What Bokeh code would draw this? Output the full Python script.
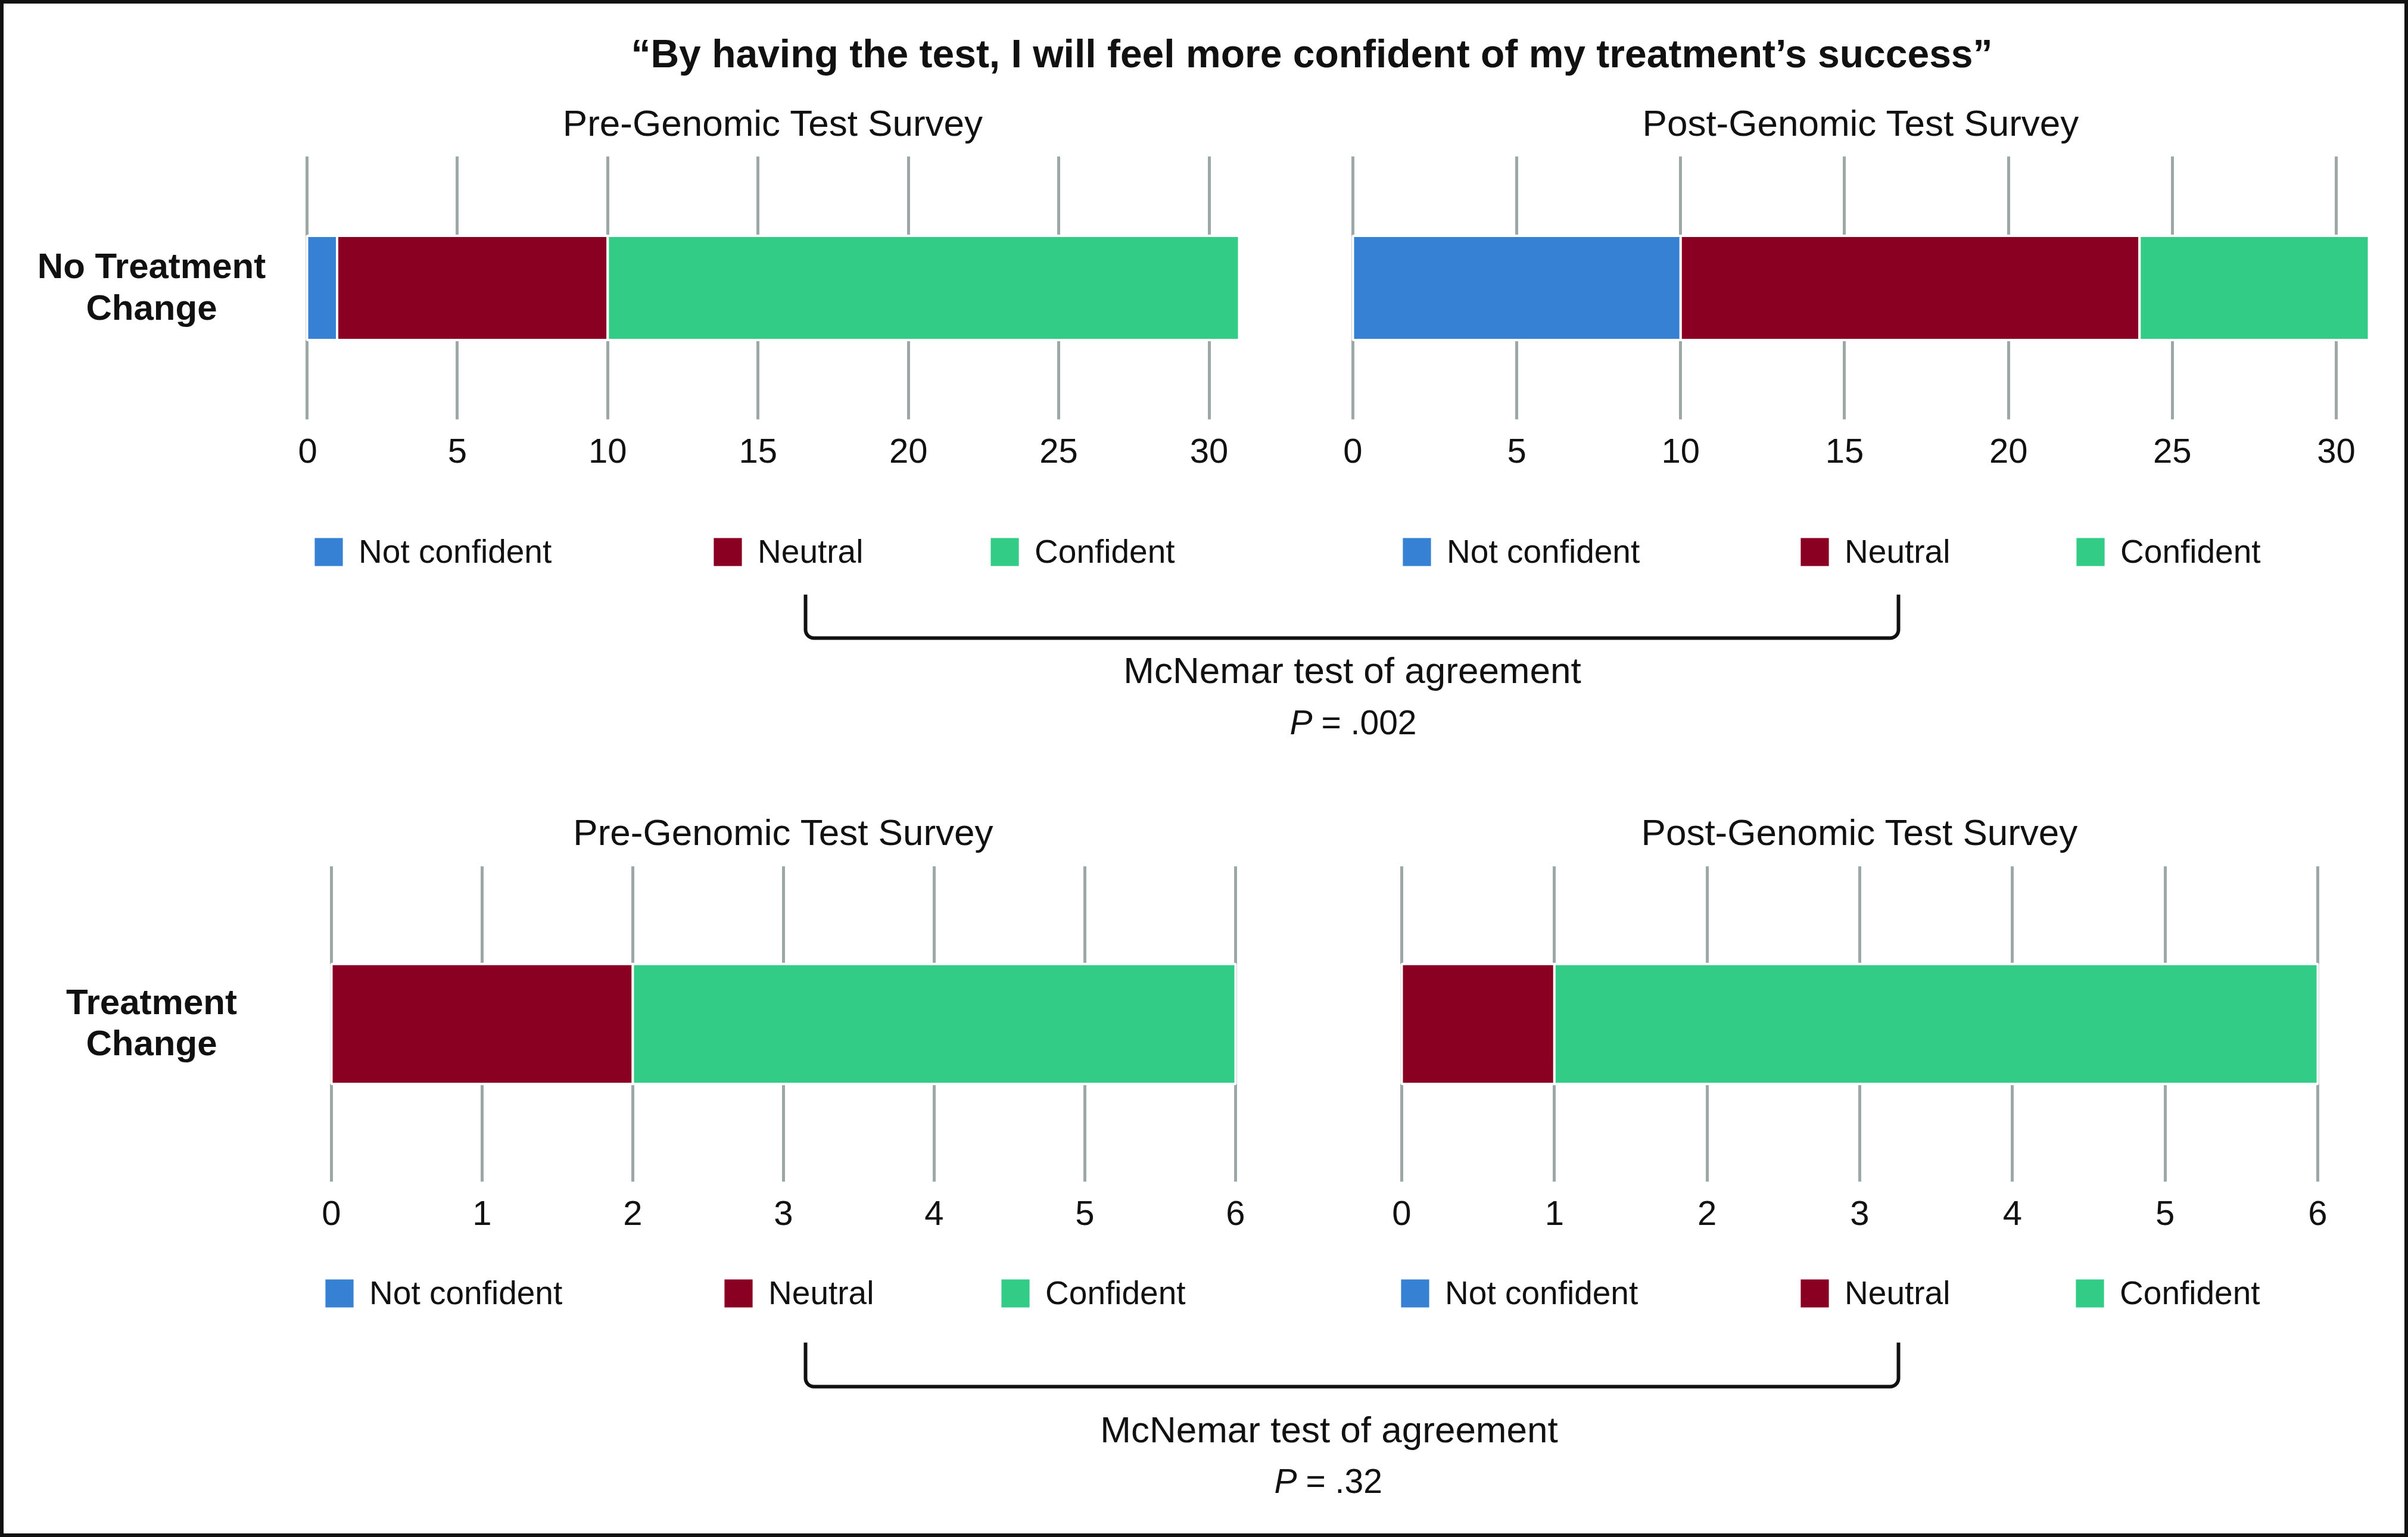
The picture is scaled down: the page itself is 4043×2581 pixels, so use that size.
import numpy as np
from bokeh.plotting import figure
from bokeh.models import Range1d, FixedTicker, Legend, LegendItem
from bokeh.layouts import row, column
from bokeh.core.properties import value
from bokeh.embed import file_html
from bokeh.resources import INLINE

# ---------------- data ----------------
categories = ["Not confident", "Neutral", "Confident"]
category_colors = ["#3681D4", "#8A0022", "#33CC87"]

no_change_pre = [1, 9, 21]
no_change_post = [10, 14, 7]
change_pre = [0, 2, 4]
change_post = [0, 1, 5]

ticks_no_change = [0, 5, 10, 15, 20, 25, 30]
ticks_change = [0, 1, 2, 3, 4, 5, 6]

chart_title = "\u201cBy having the test, I will feel more confident of my treatment\u2019s success\u201d"
survey_titles = ["Pre-Genomic Test Survey", "Post-Genomic Test Survey"]
group_labels = [["No Treatment", "Change"], ["Treatment", "Change"]]
test_name = "McNemar test of agreement"
p_symbol = "P"
p_value_texts = ["= .002", "= .32"]

# ---------------- style / layout ----------------
FONT = "Liberation Sans"
INK = "#111111"
GRID = "#9BA8A6"
BORDER = 6
X0, X1 = BORDER, 4043 - BORDER      # inner content (page coordinates)
Y_END = 2581 - BORDER
PAD = 6                              # px of breathing room so edge grid lines show


def survey_panel(counts, xmax, ticks, title, x_left, x_right, frame_l, frame_r,
                 y_top, y_bot, frame_t, frame_b, bar_height, title_standoff):
    ppu = (frame_r - frame_l) / xmax
    fl, fr = frame_l - PAD, frame_r + PAD
    p = figure(width=x_right - x_left, height=y_bot - y_top, title=title,
               x_range=Range1d(-PAD / ppu, xmax + PAD / ppu), y_range=Range1d(0, 1),
               output_backend="svg", toolbar_location=None, y_axis_location=None,
               min_border_left=fl - x_left, min_border_right=x_right - fr,
               min_border_top=frame_t - y_top, min_border_bottom=y_bot - frame_b)
    p.outline_line_color = None
    p.title.align = "center"
    p.title.text_font = FONT
    p.title.text_font_size = "62px"
    p.title.text_font_style = "normal"
    p.title.text_color = INK
    p.title.standoff = title_standoff
    right = np.cumsum(counts)
    left = right - np.array(counts)
    p.hbar(y=[0.5] * len(counts), left=left, right=right, height=bar_height,
           fill_color=category_colors, line_color="white", line_width=4)
    p.xaxis.ticker = FixedTicker(ticks=ticks)
    p.xaxis.axis_line_color = None
    p.xaxis.major_tick_line_color = None
    p.xaxis.minor_tick_line_color = None
    p.xaxis.major_tick_in = 0
    p.xaxis.major_tick_out = 0
    p.xaxis.major_label_standoff = 32
    p.xaxis.major_label_text_font = FONT
    p.xaxis.major_label_text_font_size = "58px"
    p.xaxis.major_label_text_color = INK
    p.xgrid.ticker = FixedTicker(ticks=ticks)
    p.xgrid.grid_line_color = GRID
    p.xgrid.grid_line_width = 5
    p.ygrid.visible = False
    return p


def canvas_band(x_left, x_right, y_top, y_bot, border_t=0, border_b=0):
    """A plain drawing area whose data coordinates are page pixels."""
    p = figure(width=x_right - x_left, height=y_bot - y_top,
               x_range=Range1d(x_left, x_right),
               y_range=Range1d(y_bot - border_b, y_top + border_t),
               output_backend="svg", toolbar_location=None,
               min_border_left=0, min_border_right=0,
               min_border_top=border_t, min_border_bottom=border_b,
               x_axis_location=None, y_axis_location=None)
    p.outline_line_color = None
    p.grid.visible = False
    return p


def add_text(p, x, baseline, txt, size, style="normal", align="center"):
    p.text(x=[x], y=[baseline - 0.34 * size], text=[txt], text_font=value(FONT),
           text_font_size=value(f"{size}px"), text_font_style=style, text_align=align,
           text_baseline="middle", text_color=INK)


G = 59  # legend glyph box (the drawn swatch is 80 % of it)
LEG_H = 62


def add_legends(p, y_bot, left_sets, square_top):
    rends = [p.rect(x=[np.nan], y=[np.nan], width=1, height=1, fill_color=c, line_color=None)
             for c in category_colors]
    for xs in left_sets:
        for cat, r, x in zip(categories, rends, xs):
            gx = x - 0.1 * G
            gtop = square_top - 0.1 * G
            lg = Legend(items=[LegendItem(label=value(cat), renderers=[r])],
                        location=(gx - X0, y_bot - (gtop + LEG_H)),
                        orientation="horizontal", padding=0, margin=0, spacing=0,
                        border_line_color=None, background_fill_alpha=0,
                        glyph_width=G, glyph_height=G, label_height=LEG_H,
                        label_standoff=21, label_text_font=FONT,
                        label_text_font_size="55px", label_text_color=INK)
            p.add_layout(lg)


def add_bracket(p, x0, x1, ytop, ybot, r=14, n=10):
    t = np.linspace(0, np.pi / 2, n)
    lx = (x0 + r) - r * np.cos(t)
    ly = (ybot - r) + r * np.sin(t)
    rx = (x1 - r) + r * np.sin(t)
    ry = (ybot - r) + r * np.cos(t)
    xs = np.concatenate([[x0], lx, rx, [x1]])
    ys = np.concatenate([[ytop], ly, ry, [ytop]])
    p.line(xs, ys, line_color=INK, line_width=6, line_join="round")


def add_stat(p, cx, y1, y2, pval, p_right):
    add_text(p, cx, y1, test_name, 62)
    add_text(p, p_right, y2, p_symbol, 57, style="italic", align="right")
    add_text(p, p_right + 15, y2, pval, 57, align="left")


# ---------------- title band ----------------
title_band = canvas_band(X0, X1, BORDER, 140)
add_text(title_band, 2202, 112, chart_title, 66, style="bold")

# ---------------- top panels (page y 140..830, frame 262..704) ----------------
lab_top = canvas_band(X0, 500, 140, 830, border_t=262 - 140, border_b=830 - 704)
add_text(lab_top, 254, 466, group_labels[0][0], 60, style="bold")
add_text(lab_top, 254, 536, group_labels[0][1], 60, style="bold")

p1 = survey_panel(no_change_pre, 31, ticks_no_change, survey_titles[0],
                  500, 2175, 515, 2080, 140, 830, 262, 704, 0.396, 43)
p2 = survey_panel(no_change_post, 31, ticks_no_change, survey_titles[1],
                  2175, X1, 2271, 3977, 140, 830, 262, 704, 0.396, 43)

# ---------------- middle band ----------------
band_b = canvas_band(X0, X1, 830, 1330)
add_legends(band_b, 1330, [[528, 1198, 1663], [2355, 3023, 3486]], 902)
add_bracket(band_b, 1352, 3187, 998, 1071)
add_stat(band_b, 2270, 1146, 1232, p_value_texts[0], 2203)

# ---------------- bottom panels (page y 1330..2110, frame 1454..1984) ----------------
lab_bot = canvas_band(X0, 500, 1330, 2110, border_t=1454 - 1330, border_b=2110 - 1984)
add_text(lab_bot, 254, 1702, group_labels[1][0], 60, style="bold")
add_text(lab_bot, 254, 1771, group_labels[1][1], 60, style="bold")

p3 = survey_panel(change_pre, 6, ticks_change, survey_titles[0],
                  500, 2210, 556, 2074, 1330, 2110, 1454, 1984, 0.38, 46)
p4 = survey_panel(change_post, 6, ticks_change, survey_titles[1],
                  2210, X1, 2353, 3891, 1330, 2110, 1454, 1984, 0.38, 46)

# ---------------- bottom band ----------------
band_d = canvas_band(X0, X1, 2110, Y_END)
add_legends(band_d, Y_END, [[546, 1216, 1681], [2352, 3023, 3485]], 2147)
add_bracket(band_d, 1352, 3187, 2254, 2328)
add_stat(band_d, 2231, 2421, 2506, p_value_texts[1], 2177)

layout = column(title_band, row(lab_top, p1, p2), band_b, row(lab_bot, p3, p4), band_d,
                styles={"border": f"{BORDER}px solid #111111", "background-color": "white"})

open("out.html", "w").write(file_html(layout, INLINE))
